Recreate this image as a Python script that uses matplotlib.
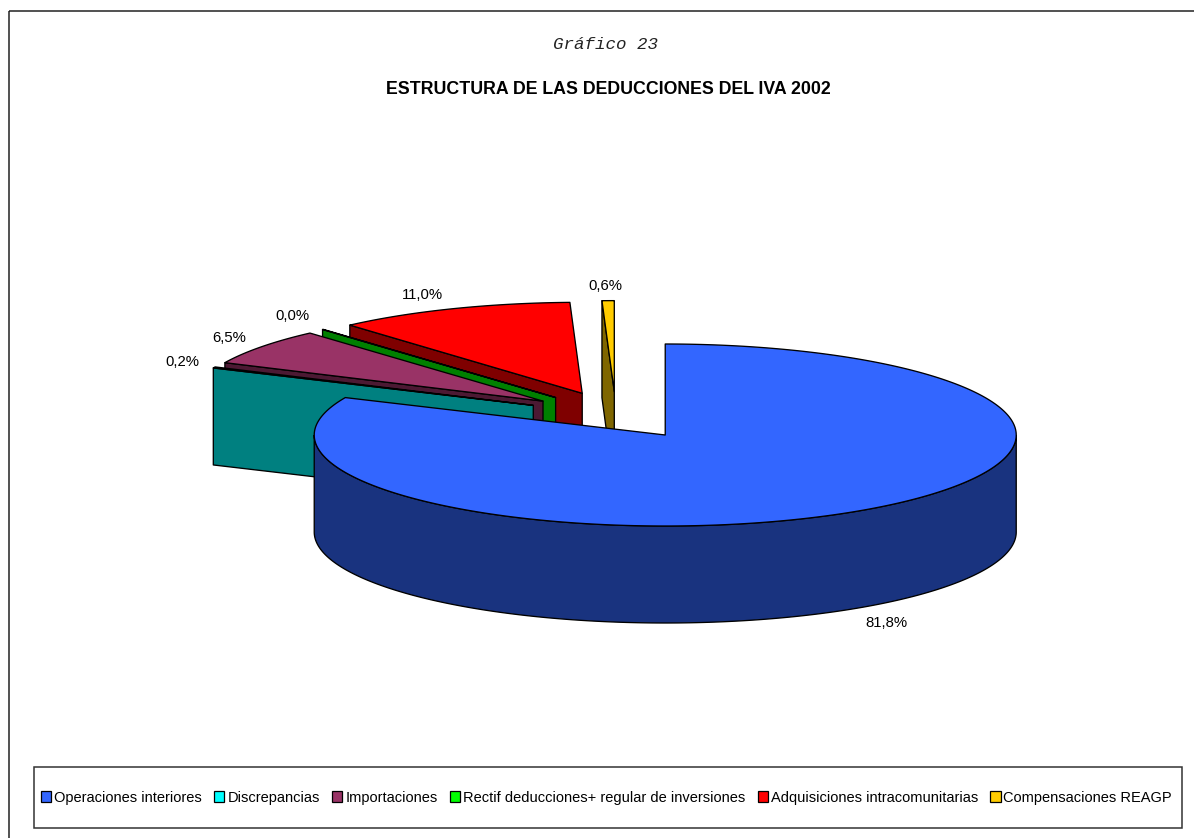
import numpy as np
import matplotlib
matplotlib.use("Agg")
import matplotlib.pyplot as plt
from matplotlib.patches import Rectangle, Patch

categorias = ["Operaciones interiores", "Discrepancias", "Importaciones",
              "Rectif deducciones+ regular de inversiones",
              "Adquisiciones intracomunitarias", "Compensaciones REAGP"]
valores = [81.76, 0.20, 6.50, 0.04, 10.96, 0.56]

color_top = ["#3366FF", "#00FFFF", "#993366", "#00FF00", "#FF0000", "#FFCC00"]
color_top_pie = ["#3366FF", "#008080", "#993366", "#008000", "#FF0000", "#FFCC00"]
color_side = ["#19337F", "#008080", "#4C1933", "#008000", "#7F0000", "#7F6600"]

# geometria de la tarta, en pixeles
CX, CY = 615.9, 415.2
RX, RY = 351.0, 91.0
DEPTH = 97.0
EXPLODE = 0.259
label_xy = [(886, 623), (182, 362), (229, 338), (292, 316), (422, 295), (605, 286)]

plt.rcParams["font.family"] = "Liberation Sans"
fig = plt.figure(figsize=(11.94, 8.38), dpi=100)
ax = fig.add_axes([0, 0, 1, 1])
ax.set_xlim(0, 1194)
ax.set_ylim(838, 0)
ax.axis("off")

ax.add_patch(Rectangle((9, 11.5), 1300, 1000, fill=False, ec="#222222", lw=1.1))

fracs = np.array(valores) / sum(valores) * 360
ends = np.cumsum(fracs)
starts = ends - fracs

def punto(a, ox, oy, r=1.0):
    t = np.radians(a)
    return ox + r * RX * np.sin(t), oy - r * RY * np.cos(t)

# de atras hacia delante
for k, i in enumerate([5, 4, 3, 2, 1, 0]):
    a0, a1 = starts[i], ends[i]
    mid = (a0 + a1) / 2
    ox, oy = punto(mid, CX, CY, EXPLODE)
    ang = np.linspace(a0, a1, 300)
    xs, ys = punto(ang, ox, oy)

    # pared radial que mira al frente
    if 180 < a0 < 360:
        ex, ey = punto(a0, ox, oy)
        ax.fill([ox, ex, ex, ox], [oy, ey, ey + DEPTH, oy + DEPTH],
                fc=color_side[i], ec="black", lw=0.95, joinstyle="round", zorder=k + 1)
    # pared exterior
    lo, hi = max(a0, 90), min(a1, 270)
    if hi > lo:
        ang2 = np.linspace(lo, hi, 300)
        x2, y2 = punto(ang2, ox, oy)
        ax.fill(np.r_[x2, x2[::-1]], np.r_[y2, y2[::-1] + DEPTH],
                fc=color_side[i], ec="black", lw=0.95, zorder=k + 1)
    # cara superior
    ax.fill(np.r_[ox, xs], np.r_[oy, ys], fc=color_top_pie[i], ec="black", lw=0.95,
            joinstyle="round", zorder=k + 1)

for v, (x, y) in zip(valores, label_xy):
    ax.text(x, y, f"{v:.1f}%".replace(".", ","), ha="center", va="center",
            fontsize=10.7, color="black", zorder=10)

ax.text(605.5, 44.5, "Gráfico 23", family="Liberation Mono", style="italic", fontsize=12.6,
        ha="center", va="center", color="#222222")
ax.text(608, 89.6, "ESTRUCTURA DE LAS DEDUCCIONES DEL IVA 2002", fontweight="bold",
        fontsize=12.8, ha="center", va="center")

# leyenda
ax.add_patch(Rectangle((33.5, 766.5), 1148, 61, fc="white", ec="#333333", lw=1.1, zorder=11))
handles = [Patch(fc=c, ec="black", lw=0.9) for c in color_top]
ax.legend(handles, categorias, loc="center", bbox_to_anchor=(606.5 / 1194, 1 - 797.5 / 838),
          bbox_transform=fig.transFigure, ncol=6, frameon=False, fontsize=10.55,
          handlelength=0.7, handleheight=0.7, handletextpad=0.2, columnspacing=0.84,
          borderpad=0, labelspacing=0).set_zorder(12)

fig.savefig("out.png", dpi=100)
